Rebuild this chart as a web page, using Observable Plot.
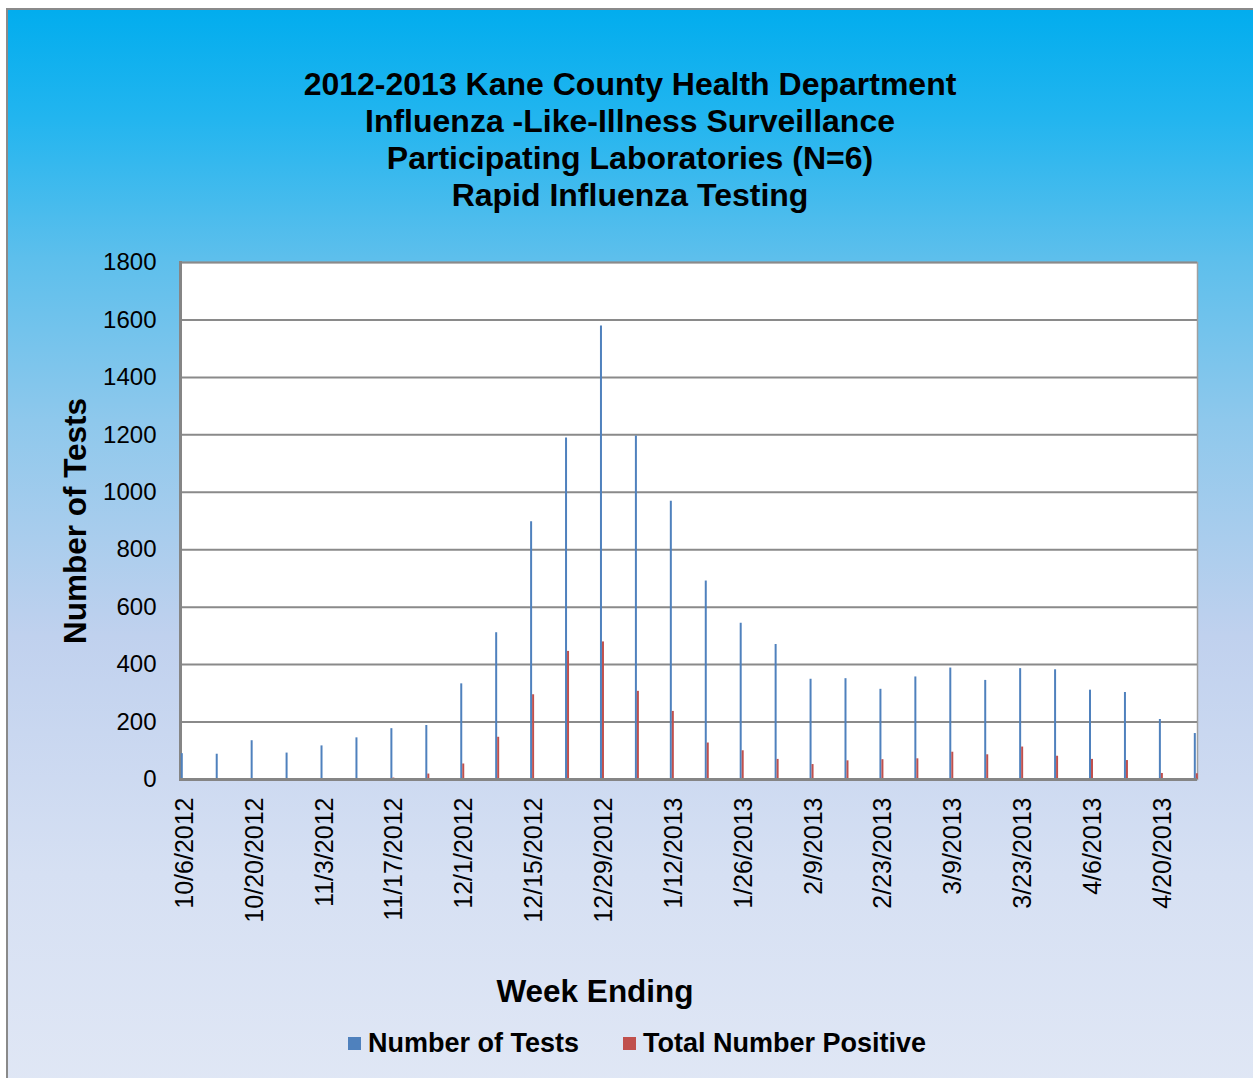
<!DOCTYPE html>
<html><head><meta charset="utf-8">
<script src="https://cdn.jsdelivr.net/npm/d3@7"></script>
<script src="https://cdn.jsdelivr.net/npm/@observablehq/plot@0.6"></script>
<style>
html,body{margin:0;padding:0;}
body{width:1253px;height:1078px;overflow:hidden;background:#fff;font-family:"Liberation Sans",Arial,sans-serif;position:relative;}
#bg{position:absolute;left:6px;top:8px;width:1260px;height:1080px;border-left:2px solid #8a8a8a;border-top:2px solid #8a8a8a;
background:linear-gradient(to bottom,#02adee 0%,#22b5ef 10%,#5dbfec 23%,#8ec8ec 38%,#c0d1ee 58%,#d6e0f3 80%,#e0e7f5 100%);}
#title{position:absolute;left:230px;width:800px;top:66px;text-align:center;font-weight:bold;font-size:32px;line-height:37px;color:#000;}
#ytitle{position:absolute;left:75px;top:521px;transform:translate(-50%,-50%) rotate(-90deg);white-space:nowrap;font-weight:bold;font-size:31.5px;color:#000;}
#xtitle{position:absolute;left:595px;top:991px;transform:translate(-50%,-50%);white-space:nowrap;font-weight:bold;font-size:31.5px;color:#000;}
#legend{position:absolute;top:1026px;left:348px;height:34px;display:flex;align-items:center;font-weight:bold;font-size:27px;color:#000;white-space:nowrap;}
.sw{display:inline-block;width:13px;height:13px;margin-right:7px;}
#chart{position:absolute;left:0;top:0;}
</style></head>
<body>
<div id="bg"></div>
<div id="title">2012-2013 Kane County Health Department<br>Influenza -Like-Illness Surveillance<br>Participating Laboratories (N=6)<br>Rapid Influenza Testing</div>
<div id="chart"></div>
<div id="ytitle">Number of Tests</div>
<div id="xtitle">Week Ending</div>
<div id="legend"><span class="sw" style="background:#4f81bd"></span><span>Number of Tests</span><span style="display:inline-block;width:44px"></span><span class="sw" style="background:#c0504d"></span><span>Total Number Positive</span></div>
<script>
const weeks = ["10/6/2012","10/13/2012","10/20/2012","10/27/2012","11/3/2012","11/10/2012","11/17/2012","11/24/2012","12/1/2012","12/8/2012","12/15/2012","12/22/2012","12/29/2012","1/5/2013","1/12/2013","1/19/2013","1/26/2013","2/2/2013","2/9/2013","2/16/2013","2/23/2013","3/2/2013","3/9/2013","3/16/2013","3/23/2013","3/30/2013","4/6/2013","4/13/2013","4/20/2013","4/27/2013"];
const tests = [90,88,135,92,117,145,177,188,333,511,897,1189,1579,1196,969,691,544,470,349,351,314,357,388,345,386,382,311,303,209,160];
const positive = [0,0,0,0,1,3,5,19,54,147,295,446,479,307,237,127,100,70,52,65,69,72,95,86,113,81,70,66,21,20];
const yTicks = [0,200,400,600,800,1000,1200,1400,1600,1800];

const data = weeks.map((w,i)=>({i, week:w, tests:tests[i], positive:positive[i]}));
const labelIdx = weeks.map((w,i)=>i).filter(i=>i%2===0);

const chart = Plot.plot({
  width:1253, height:940,
  marginLeft:180, marginRight:56, marginTop:262, marginBottom:161,
  style:{background:"transparent", fontFamily:"'Liberation Sans', Arial, sans-serif", color:"#000", overflow:"visible"},
  x:{type:"linear", domain:[-0.037,29.077], axis:null},
  y:{domain:[0,1800], axis:null},
  marks:[
    Plot.frame({fill:"white", stroke:"#a0a0a0", strokeWidth:1.5}),
    Plot.ruleY(yTicks, {stroke:"#8a8a8a", strokeWidth:2}),
    Plot.frame({anchor:"left", stroke:"#858585", strokeWidth:3}),
    Plot.ruleX(data, {x:"i", y1:0, y2:"tests", stroke:"#4f81bd", strokeWidth:2}),
    Plot.ruleX(data, {x:"i", y1:0, y2:"positive", stroke:"#c0504d", strokeWidth:2, dx:2}),
    Plot.ruleY([0], {stroke:"#858585", strokeWidth:3}),
    Plot.axisY({ticks:yTicks, tickSize:0, tickPadding:24, fontSize:24, tickFormat:d=>String(d), fill:"#000"}),
    Plot.text(labelIdx, {x:d=>d, y:0, text:d=>weeks[d], rotate:-90, textAnchor:"end", dy:18, dx:3, fontSize:25, fill:"#000"})
  ]
});
document.getElementById("chart").appendChild(chart);
</script>
</body></html>
